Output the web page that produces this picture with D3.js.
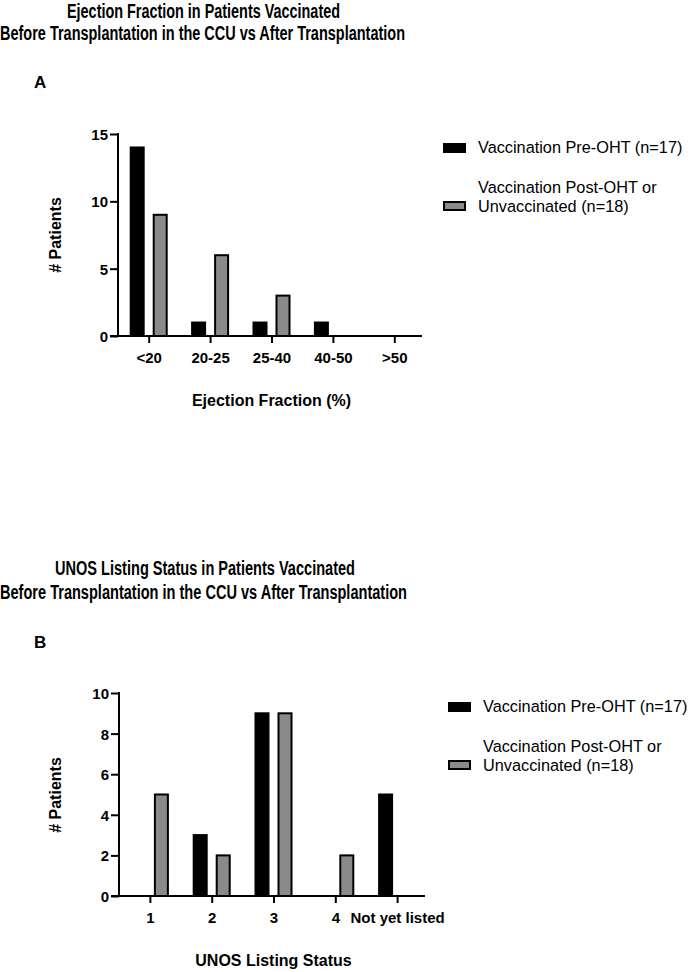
<!DOCTYPE html>
<html>
<head>
<meta charset="utf-8">
<script src="https://cdn.jsdelivr.net/npm/d3@7"></script>
<style>
  body { margin: 0; background: #fff; }
  svg { display: block; }
  .title { font-family: "Liberation Sans Narrow", "Arial Narrow", "Liberation Sans", Arial, sans-serif; font-weight: bold; font-size: 20px; }
  .bold { font-family: "Liberation Sans", Arial, sans-serif; font-weight: bold; }
  .legend { font-family: "Liberation Sans", Arial, sans-serif; font-size: 16.3px; }
</style>
</head>
<body>
<svg id="chart" width="692" height="972"></svg>
<script>
// Panel A - ejection fraction
var efCategories = ["<20", "20-25", "25-40", "40-50", ">50"];
var efPre = [14, 1, 1, 1, 0];
var efPost = [9, 6, 3, 0, 0];
var efTicks = [0, 5, 10, 15];

// Panel B - UNOS listing status
var unosCategories = ["1", "2", "3", "4", "Not yet listed"];
var unosPre = [0, 3, 9, 0, 5];
var unosPost = [5, 2, 9, 2, 0];
var unosTicks = [0, 2, 4, 6, 8, 10];

var seriesLabels = [["Vaccination Pre-OHT (n=17)"], ["Vaccination Post-OHT or", "Unvaccinated (n=18)"]];
var seriesFill = ["#000000", "#8a8a8a"];

var svg = d3.select("#chart");
svg.append("rect").attr("width", 692).attr("height", 972).attr("fill", "#fff");

function drawPanel(cfg) {
    var g = svg.append("g");

    // two-line title, squeezed to the width seen in the figure
    cfg.titles.forEach(function (t) {
        g.append("text")
            .attr("class", "title")
            .attr("x", t.cx)
            .attr("y", t.y)
            .attr("text-anchor", "middle")
            .attr("textLength", t.w)
            .attr("lengthAdjust", "spacingAndGlyphs")
            .text(t.text);
    });

    g.append("text")
        .attr("class", "bold")
        .attr("x", 34)
        .attr("y", cfg.letterY)
        .style("font-size", "17px")
        .text(cfg.letter);

    var x = d3.scalePoint()
        .domain(cfg.categories)
        .range(cfg.xRange)
        .padding(0.5);

    var sub = d3.scaleBand()
        .domain([0, 1])
        .range([-19, 19])
        .paddingInner(0.348);

    var y = d3.scaleLinear()
        .domain([0, d3.max(cfg.ticks)])
        .range([cfg.y0, cfg.yTop]);

    // bars
    [cfg.pre, cfg.post].forEach(function (vals, s) {
        var rows = vals.map(function (v, i) { return {c: cfg.categories[i], v: v}; })
            .filter(function (d) { return d.v > 0; });
        g.selectAll(".bar" + s)
            .data(rows)
            .enter()
            .append("rect")
            .attr("x", function (d) { return x(d.c) + sub(s) + 1; })
            .attr("width", sub.bandwidth() - 2)
            .attr("y", function (d) { return y(d.v); })
            .attr("height", function (d) { return y(0) - y(d.v); })
            .attr("fill", seriesFill[s])
            .attr("stroke", "#000")
            .attr("stroke-width", 2);
    });

    // y axis
    var yAxis = g.append("g")
        .attr("transform", "translate(" + cfg.xRange[0] + ",0)")
        .call(d3.axisLeft(y).tickValues(cfg.ticks).tickSize(8).tickPadding(2).tickSizeOuter(0));
    yAxis.select(".domain").remove();
    yAxis.append("line")
        .attr("y1", y(0)).attr("y2", y(d3.max(cfg.ticks)) - 1)
        .attr("stroke", "#000").attr("stroke-width", 2);
    yAxis.selectAll(".tick line").attr("stroke-width", 2);
    yAxis.selectAll(".tick text")
        .attr("class", "bold")
        .attr("fill", "#000")
        .style("font-size", "15px")
        .attr("dy", "0.36em");

    // x axis
    var xAxis = g.append("g")
        .attr("transform", "translate(0," + cfg.y0 + ")")
        .call(d3.axisBottom(x).tickSize(7).tickPadding(6).tickSizeOuter(0));
    xAxis.select(".domain").remove();
    xAxis.append("line")
        .attr("x1", cfg.xRange[0] - 8).attr("x2", cfg.xRange[1] - 3)
        .attr("stroke", "#000").attr("stroke-width", 2);
    xAxis.selectAll(".tick line").attr("stroke-width", 2);
    xAxis.selectAll(".tick text")
        .attr("class", "bold")
        .attr("fill", "#000")
        .style("font-size", "15px")
        .attr("dy", "0.9em");

    // axis titles
    g.append("text")
        .attr("class", "bold")
        .attr("transform", "translate(61," + cfg.yLabelCy + ") rotate(-90)")
        .attr("text-anchor", "middle")
        .style("font-size", "16px")
        .text("# Patients");

    g.append("text")
        .attr("class", "bold")
        .attr("x", x(cfg.categories[2]))
        .attr("y", cfg.xLabelY)
        .attr("text-anchor", "middle")
        .style("font-size", "16px")
        .text(cfg.xLabel);

    // legend
    var leg = g.append("g").attr("transform", "translate(" + cfg.legX + "," + cfg.legY + ")");
    var swatchY = [0, 58];
    var lineY = [[10], [50, 69]];
    seriesLabels.forEach(function (lines, s) {
        leg.append("rect")
            .attr("x", 1)
            .attr("y", swatchY[s] + 1)
            .attr("width", 21)
            .attr("height", 8)
            .attr("fill", seriesFill[s])
            .attr("stroke", "#000")
            .attr("stroke-width", 2);
        lines.forEach(function (l, k) {
            leg.append("text")
                .attr("class", "legend")
                .attr("x", 35)
                .attr("y", lineY[s][k])
                .text(l);
        });
    });
}

drawPanel({
    titles: [
        {text: "Ejection Fraction in Patients Vaccinated", cx: 203.5, y: 17.5, w: 273},
        {text: "Before Transplantation in the CCU vs After Transplantation", cx: 202.5, y: 39.5, w: 405}
    ],
    letter: "A", letterY: 88,
    categories: efCategories, pre: efPre, post: efPost, ticks: efTicks,
    xRange: [118, 425], y0: 336, yTop: 134,
    yLabelCy: 235, xLabel: "Ejection Fraction (%)", xLabelY: 406,
    legX: 443, legY: 143
});

drawPanel({
    titles: [
        {text: "UNOS Listing Status in Patients Vaccinated", cx: 205, y: 575, w: 300},
        {text: "Before Transplantation in the CCU vs After Transplantation", cx: 203.5, y: 599, w: 407}
    ],
    letter: "B", letterY: 648,
    categories: unosCategories, pre: unosPre, post: unosPost, ticks: unosTicks,
    xRange: [119, 428], y0: 896, yTop: 693,
    yLabelCy: 795, xLabel: "UNOS Listing Status", xLabelY: 966,
    legX: 448, legY: 702
});
</script>
</body>
</html>
